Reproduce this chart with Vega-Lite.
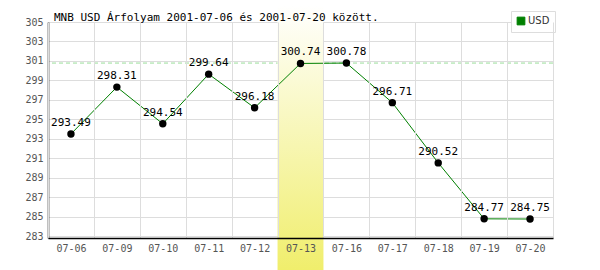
{
  "$schema": "https://vega.github.io/schema/vega-lite/v6.json",
  "width": 505,
  "height": 216,
  "autosize": "none",
  "padding": {"left": 48, "top": 22, "right": 47, "bottom": 32},
  "background": "#ffffff",
  "config": {
    "view": {"stroke": null},
    "font": "DejaVu Sans Mono",
    "axisY": {
      "title": null,
      "labelOverlap": false,
      "ticks": false,
      "grid": true,
      "gridColor": "#dddddd",
      "domainColor": "#000000",
      "domainWidth": 1.5,
      "labelColor": "#555555",
      "labelFont": "DejaVu Sans Mono",
      "labelFontSize": 10,
      "labelPadding": 5
    }
  },
  "title": {
    "text": "MNB USD Árfolyam 2001-07-06 és 2001-07-20 között.",
    "anchor": "start",
    "frame": "group",
    "dx": 6,
    "offset": -18,
    "font": "DejaVu Sans Mono",
    "fontSize": 11,
    "fontWeight": "normal",
    "color": "#000000"
  },
  "data": {
    "values": [
      {"date": "07-06", "rate": 293.49},
      {"date": "07-09", "rate": 298.31},
      {"date": "07-10", "rate": 294.54},
      {"date": "07-11", "rate": 299.64},
      {"date": "07-12", "rate": 296.18},
      {"date": "07-13", "rate": 300.74},
      {"date": "07-16", "rate": 300.78},
      {"date": "07-17", "rate": 296.71},
      {"date": "07-18", "rate": 290.52},
      {"date": "07-19", "rate": 284.77},
      {"date": "07-20", "rate": 284.75}
    ]
  },
  "encoding": {
    "x": {
      "field": "date",
      "type": "ordinal",
      "sort": null,
      "scale": {
        "domain": ["07-06", "07-09", "07-10", "07-11", "07-12", "07-13", "07-16", "07-17", "07-18", "07-19", "07-20"],
        "paddingInner": 0,
        "paddingOuter": 0
      },
      "axis": {
        "title": null,
        "labelAngle": 0,
        "tickBand": "extent",
        "ticks": false,
        "grid": true,
        "gridColor": "#dddddd",
        "domainColor": "#000000",
        "domainWidth": 1.5,
        "labelColor": "#555555",
        "labelFont": "DejaVu Sans Mono",
        "labelFontSize": 10,
        "labelPadding": 5
      }
    }
  },
  "layer": [
    {
      "mark": {"type": "rule", "color": "#99dd99", "strokeDash": [4, 3], "strokeWidth": 1},
      "encoding": {
        "x": null,
        "y": {"aggregate": "max", "field": "rate", "type": "quantitative", "scale": {"domain": [282.8, 305], "nice": false, "zero": false}, "axis": {"values": [283, 285, 287, 289, 291, 293, 295, 297, 299, 301, 303, 305]}}
      }
    },
    {
      "transform": [{"filter": "datum.date === '07-13'"}],
      "mark": {
        "type": "rect",
        "color": {
          "gradient": "linear",
          "x1": 0, "y1": 0, "x2": 0, "y2": 1,
          "stops": [
            {"offset": 0, "color": "#ffffff"},
            {"offset": 1, "color": "#f0ee6c"}
          ]
        }
      },
      "encoding": {
        "y": {"datum": 306.75, "type": "quantitative", "axis": {"values": [283, 285, 287, 289, 291, 293, 295, 297, 299, 301, 303, 305]}},
        "y2": {"datum": 279.5}
      }
    },
    {
      "mark": {"type": "line", "strokeWidth": 1},
      "encoding": {
        "y": {"field": "rate", "type": "quantitative", "axis": {"values": [283, 285, 287, 289, 291, 293, 295, 297, 299, 301, 303, 305]}},
        "color": {
          "datum": "USD",
          "scale": {"range": ["#008000"]},
          "legend": {
            "title": null,
            "orient": "none",
            "legendX": 463,
            "legendY": -11,
            "symbolType": "square",
            "symbolSize": 60,
            "symbolFillColor": "#008000",
            "symbolStrokeColor": "#333333",
            "symbolStrokeWidth": 1,
            "strokeColor": "#dddddd",
            "fillColor": "#ffffff",
            "padding": 5,
            "labelFont": "DejaVu Sans",
            "labelFontSize": 10,
            "labelColor": "#333333",
            "labelOffset": 2
          }
        }
      }
    },
    {
      "mark": {"type": "point", "filled": true, "color": "#000000", "size": 55, "opacity": 1},
      "encoding": {
        "y": {"field": "rate", "type": "quantitative", "axis": {"values": [283, 285, 287, 289, 291, 293, 295, 297, 299, 301, 303, 305]}}
      }
    },
    {
      "mark": {"type": "text", "dy": -11, "font": "DejaVu Sans Mono", "fontSize": 11, "color": "#000000"},
      "encoding": {
        "y": {"field": "rate", "type": "quantitative", "axis": {"values": [283, 285, 287, 289, 291, 293, 295, 297, 299, 301, 303, 305]}},
        "text": {"field": "rate", "type": "quantitative", "format": ".2f"}
      }
    }
  ]
}
